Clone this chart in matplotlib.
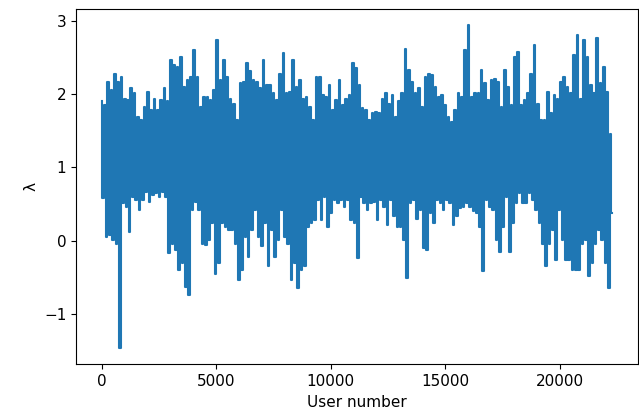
import numpy as np
import matplotlib
matplotlib.use("Agg")
import matplotlib.pyplot as plt

# upper spikes of lambda, read left to right across the users
peaks = [1.90, 1.85, 2.17, 2.06, 2.28, 2.17, 2.24, 1.94, 1.92, 2.08, 2.01, 1.69, 1.65, 1.83, 2.03, 1.78, 1.94, 1.78, 1.92, 2.08, 1.90, 2.47, 2.40,
         2.37, 2.51, 2.10, 2.19, 2.24, 2.60, 2.24, 1.83, 1.96, 1.96, 1.92, 2.06, 2.74, 2.19, 2.47, 2.24, 1.94, 1.87, 1.65, 2.15, 2.17, 2.42,
         2.31, 2.19, 2.17, 2.08, 2.47, 2.12, 2.12, 2.01, 1.92, 2.28, 2.56, 2.01, 2.03, 2.47, 2.10, 2.19, 1.94, 1.96, 1.83, 1.65, 2.24, 2.24, 1.99,
         1.96, 2.12, 1.78, 1.92, 2.19, 1.85, 1.94, 1.99, 2.42, 2.35, 2.12, 1.81, 1.78, 1.65, 1.74, 1.76, 1.74, 1.94, 2.01, 1.87, 1.99, 1.69,
         1.90, 2.01, 2.62, 2.33, 2.17, 2.01, 2.08, 1.83, 2.24, 2.28, 2.26, 2.10, 1.96, 1.99, 1.85, 1.69, 1.62, 1.78, 2.01, 1.96, 2.60, 2.94, 1.96,
         2.01, 2.01, 2.33, 2.15, 1.92, 2.19, 2.21, 2.17, 1.83, 2.33, 2.10, 1.85, 2.51, 2.58, 1.85, 1.92, 2.01, 2.28, 2.67, 1.87, 1.65, 1.65,
         2.03, 1.74, 1.99, 1.94, 2.17, 2.24, 2.10, 2.01, 2.53, 2.81, 1.94, 2.74, 2.51, 2.12, 2.01, 2.76, 2.15, 2.37, 2.03, 1.46]

# lower spikes, same users
troughs = [0.58, 0.05, 0.08, 0.01, -0.04, -1.47, 0.51, 0.46, 0.12, 0.60, 0.55, 0.42, 0.55, 0.67, 0.53, 0.62, 0.65, 0.60, 0.67, 0.60, -0.17, -0.04, -0.13,
           -0.40, -0.31, -0.63, -0.74, 0.42, 0.53, 0.42, -0.04, -0.06, 0.01, 0.24, -0.45, -0.31, 0.24, 0.19, 0.15, 0.15, -0.04, -0.54, -0.40, 0.05, -0.22,
           0.15, 0.42, 0.05, -0.08, 0.24, -0.35, 0.15, -0.22, 0.01, 0.42, 0.05, -0.04, -0.54, -0.31, -0.65, -0.40, -0.35, 0.19, 0.24, 0.28, 0.55, 0.28, 0.60,
           0.19, 0.37, 0.55, 0.51, 0.55, 0.46, 0.55, 0.28, 0.24, -0.24, 0.60, 0.51, 0.42, 0.51, 0.53, 0.28, 0.55, 0.46, 0.21, 0.55, 0.33, 0.19,
           0.19, 0.01, -0.51, 0.51, 0.55, 0.30, 0.42, -0.10, -0.13, 0.37, 0.24, 0.55, 0.51, 0.42, 0.55, 0.51, 0.21, 0.33, 0.44, 0.46, 0.51, 0.46, 0.40,
           0.37, 0.19, -0.42, 0.55, 0.46, 0.42, 0.01, -0.15, 0.19, 0.60, -0.15, 0.24, 0.51, 0.65, 0.51, 0.51, 0.65, 0.55, 0.42, 0.24, -0.04, -0.35,
           -0.04, 0.15, -0.26, 0.42, 0.01, -0.26, -0.26, -0.40, -0.40, -0.40, -0.04, 0.01, -0.49, -0.31, -0.04, 0.15, 0.01, -0.31, -0.65, 0.37]

last_user = 22200
users = np.linspace(0, last_user, len(peaks))
step = users[1] - users[0]

# alternate peak / trough so the dense band looks like the raw trace
x = np.empty(2 * len(users))
y = np.empty(2 * len(users))
x[0::2] = users
x[1::2] = users + step / 2
y[0::2] = peaks
y[1::2] = troughs

fig = plt.figure(figsize=(6.39, 4.15), dpi=100)
ax = fig.add_axes([0.119, 0.122, 0.879, 0.856])
ax.plot(x, y, color="#1f77b4", linewidth=1.5, drawstyle="steps-mid")

ax.set_xlabel("User number", fontsize=11)
ax.set_ylabel("λ", fontsize=11)
ax.tick_params(labelsize=11)

fig.savefig("out.png", dpi=100)
